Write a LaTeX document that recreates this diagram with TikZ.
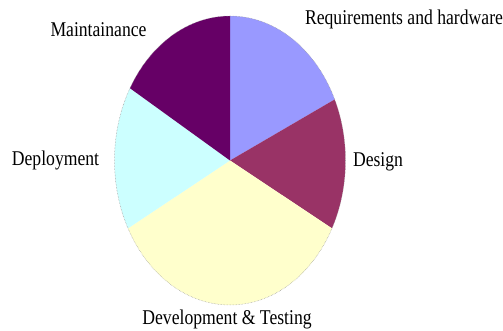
\documentclass[tikz,border=0pt]{standalone}
\usepackage{fontspec}
\setmainfont{Liberation Serif}
\usepackage{xcolor}
\definecolor{reqblue}{HTML}{9999FF}
\definecolor{designred}{HTML}{993366}
\definecolor{devyellow}{HTML}{FFFFCC}
\definecolor{deploycyan}{HTML}{CCFFFF}
\definecolor{maintpurple}{HTML}{660066}

\begin{document}
\begin{tikzpicture}[x=1pt, y=1pt,
    label/.style={font=\fontsize{21}{25}\selectfont, xscale=0.84, inner sep=0pt, anchor=base},
    slice/.style={draw=none}]
    \useasboundingbox (0,0) rectangle (503,331);
    \coordinate (centre) at (230,170.5);

    % pie slices
    \fill[reqblue] (centre) -- ++(90:115.5 and 144.5) arc[start angle=90, end angle=25, x radius=115.5, y radius=144.5] -- cycle;
    \fill[designred] (centre) -- ++(25:115.5 and 144.5) arc[start angle=25, end angle=-28, x radius=115.5, y radius=144.5] -- cycle;
    \fill[devyellow] (centre) -- ++(-28:115.5 and 144.5) arc[start angle=-28, end angle=-152, x radius=115.5, y radius=144.5] -- cycle;
    \fill[deploycyan] (centre) -- ++(208:115.5 and 144.5) arc[start angle=208, end angle=150, x radius=115.5, y radius=144.5] -- cycle;
    \fill[maintpurple] (centre) -- ++(150:115.5 and 144.5) arc[start angle=150, end angle=90, x radius=115.5, y radius=144.5] -- cycle;
    \draw[gray!80, densely dotted, line width=0.5pt] (centre) ellipse[x radius=115.5, y radius=144.5];

    % labels
    \node[label] (req) at (404,306) {Requirements and hardware};
    \node[label] (maint) at (98.5,294.5) {Maintainance};
    \node[label] (deploy) at (55.5,165) {Deployment};
    \node[label] (design) at (378,164) {Design};
    \node[label] (devtest) at (227,6) {Development \& Testing};
\end{tikzpicture}
\end{document}
